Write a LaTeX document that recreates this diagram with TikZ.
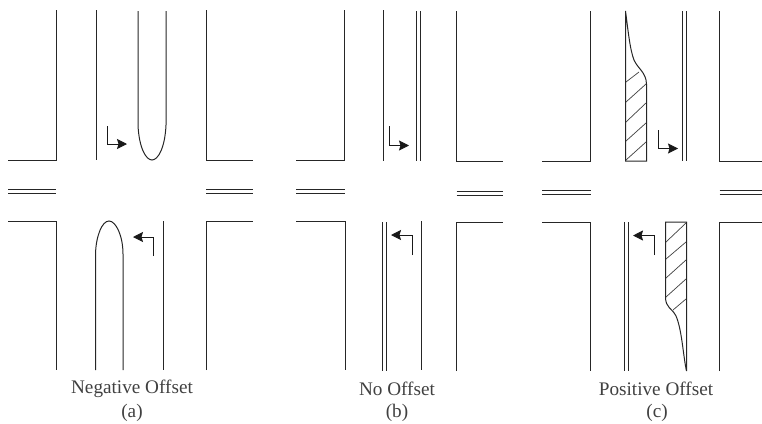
\documentclass[tikz,border=0pt]{standalone}
\usepackage{fontspec}
\setmainfont{Liberation Serif}
\usetikzlibrary{arrows.meta}

\begin{document}
\begin{tikzpicture}[
    x=1pt, y=-1pt,
    road/.style={draw=black!85, line width=1pt},
    turn/.style={draw=black!90, line width=1pt, -{Stealth[length=10pt,width=10pt,inset=1.5pt]}},
    hatch/.style={draw=black!75, line width=0.7pt},
    caption/.style={font=\fontsize{19.2}{21}\selectfont, text=black!75, inner sep=0pt, anchor=center}
]
\useasboundingbox (0,0) rectangle (762,423);

\draw[road] (8,160) -- (56,160) -- (56,10);
\draw[road] (96.5,10) -- (96.5,160);
\draw[road] (138,11) -- (138,125) .. controls (139,148) and (146,160) .. (152,160) .. controls (158,160) and (165,148) .. (166,125) -- (166,11);
\draw[road] (206,10) -- (206,160) -- (253,160);
\draw[road] (8,189) -- (56,189) (8,193) -- (56,193);
\draw[road] (206,189) -- (253,189) (206,193) -- (253,193);
\draw[road] (8,221) -- (56,221) -- (56,370);
\draw[road] (95.5,370) -- (95.5,254) .. controls (96,236) and (102,221) .. (109,221) .. controls (116,221) and (123,236) .. (123,254) -- (123,370);
\draw[road] (163.5,221) -- (163.5,370);
\draw[road] (206,370) -- (206,221) -- (253,221);
\draw[turn] (107.5,126) -- (107.5,144) -- (127,144);
\draw[turn] (153,256) -- (153,237) -- (133,237);

\draw[road] (296,160) -- (344.5,160) -- (344.5,10);
\draw[road] (383.5,10) -- (383.5,161);
\draw[road] (416.5,11) -- (416.5,161) (420.5,11) -- (420.5,161);
\draw[road] (456.5,11) -- (456.5,161) -- (503,161);
\draw[road] (296,189) -- (345,189) (296,193) -- (345,193);
\draw[road] (456.5,191) -- (503,191) (456.5,195) -- (503,195);
\draw[road] (296,221) -- (345,221) -- (345,370);
\draw[road] (382,222) -- (382,371) (386,222) -- (386,371);
\draw[road] (421.5,221) -- (421.5,370);
\draw[road] (456.5,371) -- (456.5,222) -- (503,222);
\draw[turn] (389.5,126) -- (389.5,145.5) -- (409,145.5);
\draw[turn] (412,255) -- (412,235) -- (391,235);

\draw[road] (542,161) -- (590.5,161) -- (590.5,11);
\draw[road] (625.5,11) .. controls (628,30) and (630,50) .. (634,60) .. controls (638,69) and (646,72) .. (646.5,84) -- (646.5,161) -- (625.5,161) -- cycle;
\draw[road] (682.5,11) -- (682.5,161) (686.5,11) -- (686.5,161);
\draw[road] (719.5,11) -- (719.5,161) -- (762,161);
\draw[road] (542,190) -- (590.5,190) (542,194) -- (590.5,194);
\draw[road] (719.5,190) -- (762,190) (719.5,194) -- (762,194);
\draw[road] (542,222) -- (590.5,222) -- (590.5,371);
\draw[road] (624,222) -- (624,371) (628,222) -- (628,371);
\draw[road] (665.5,222) -- (686.5,222) -- (686.5,371) .. controls (683,355) and (682,330) .. (676,316) .. controls (672,308) and (665.5,308) .. (665.5,297) -- cycle;
\draw[road] (719.5,371) -- (719.5,222) -- (762,222);
\draw[turn] (658,130) -- (658,148.5) -- (678,148.5);
\draw[turn] (654,255) -- (654,235.5) -- (633,235.5);
\foreach \ya/\yb in {102/84, 122/103, 141/123, 160/142}
    \draw[hatch] (626,\ya) -- (646,\yb);
\draw[hatch] (626,82) -- (639,72);
\foreach \ya/\yb in {242/223, 259/242, 278/260, 297/279}
    \draw[hatch] (666,\ya) -- (686,\yb);
\draw[hatch] (673,310) -- (686,299);

\node[caption] (nega) at (132,389) {Negative Offset};
\node[caption] (nolab) at (397,389) {No Offset};
\node[caption] (posi) at (656,389) {Positive Offset};
\node[caption] (capa) at (132,412.5) {(a)};
\node[caption] (capb) at (397,412.5) {(b)};
\node[caption] (capc) at (657,412.5) {(c)};
\end{tikzpicture}
\end{document}
